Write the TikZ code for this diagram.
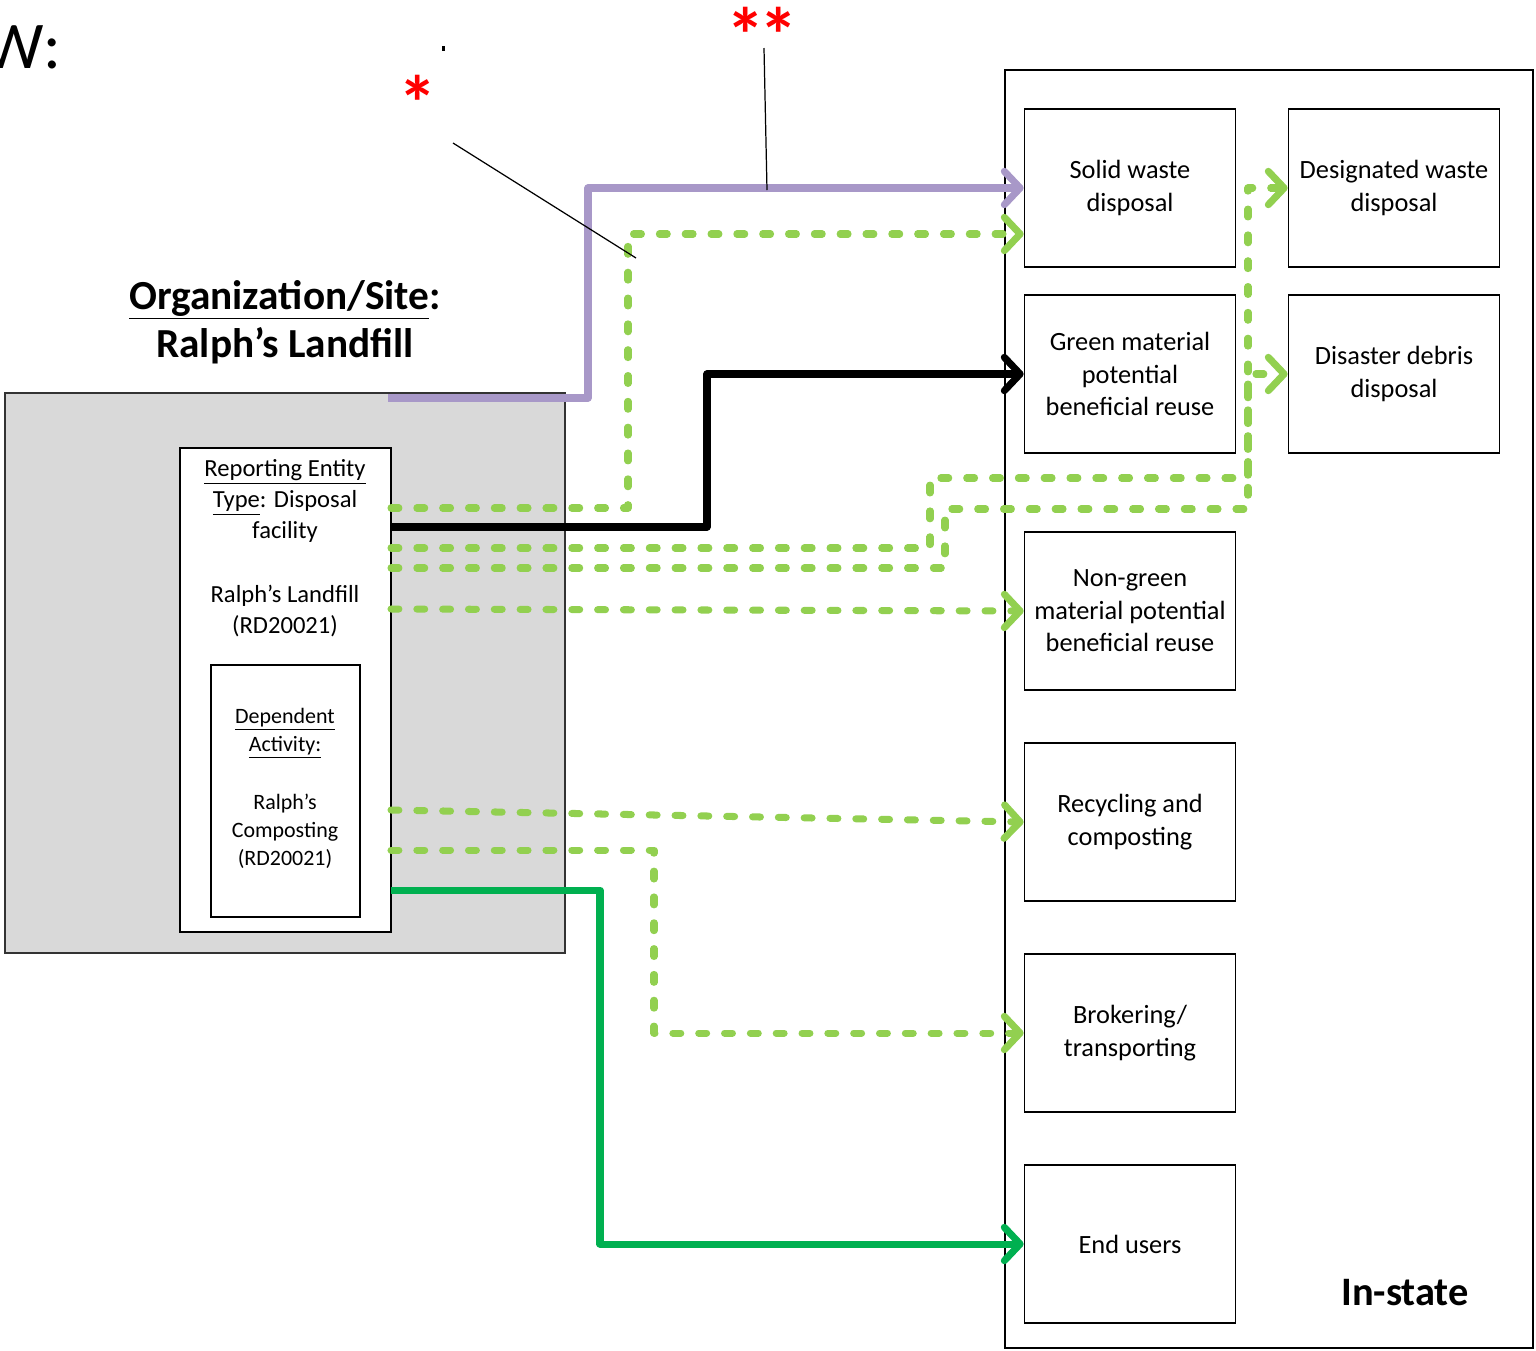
\documentclass[tikz,border=0pt]{standalone}
\usepackage{fontspec}
\setmainfont{Carlito}
\usetikzlibrary{arrows.meta}

\definecolor{sitegray}{RGB}{217,217,217}
\definecolor{flowpurple}{RGB}{168,152,200}
\definecolor{flowlight}{RGB}{146,208,80}
\definecolor{flowgreen}{RGB}{0,176,80}

\begin{document}
\begin{tikzpicture}[x=0.02cm, y=-0.02cm,
  dest/.style={draw, line width=1pt, minimum width=4.22cm, minimum height=3.16cm, align=center, inner sep=1pt, font=\fontsize{15}{18.5}\selectfont},
  barb/.style={-{Straight Barb[round, length=9pt, width=19pt]}},
  solidflow/.style={line width=4pt, line join=round, barb},
  dashflow/.style={draw=flowlight, line width=4pt, line cap=round, line join=round, dash pattern=on 4.5pt off 10.2pt, barb},
  mark star/.style={red, anchor=base, inner sep=0, font=\bfseries\fontsize{44}{44}\selectfont},
  leader/.style={line width=0.7pt}]

\useasboundingbox (0,0) rectangle (1536,1350);

\node [anchor=base west, inner sep=0, font=\fontsize{38}{38}\selectfont] (cut) at (-16,68) {W:};

\node [draw=black!80, line width=0.8pt, fill=sitegray, minimum width=11.2cm, minimum height=11.2cm] (site) at (285,673) {};
\node [draw, fill=white, line width=0.8pt, minimum width=4.22cm, minimum height=9.68cm] (rep) at (285.5,690) {};
\node [draw, line width=0.8pt, minimum width=2.98cm, minimum height=5.04cm] (dep) at (285.5,791) {};

\node [align=center, font=\fontsize{14}{17.6}\selectfont] (reptype) at (285,501) {\underline{Reporting Entity}\\\underline{Type}: Disposal\\facility};
\node [align=center, font=\fontsize{14}{17.6}\selectfont] (repname) at (285,611) {Ralph’s Landfill\\(RD20021)};
\node [align=center, font=\fontsize{12.5}{16}\selectfont] (deptype) at (285,733) {\underline{Dependent}\\\underline{Activity:}};
\node [align=center, font=\fontsize{12.5}{16}\selectfont] (depname) at (285,831) {Ralph’s\\Composting\\(RD20021)};

\node [align=center, font=\bfseries\fontsize{23.5}{27.3}\selectfont] (org) at (285,322) {\underline{Organization/Site}:\\Ralph’s Landfill};

\node [draw, line width=1pt, minimum width=10.56cm, minimum height=25.56cm] (instate) at (1269,709) {};
\node [font=\bfseries\fontsize{23}{23}\selectfont] (instatelabel) at (1405,1293) {In-state};

\node [dest] (solid) at (1130,188) {Solid waste\\disposal};
\node [dest] (designated) at (1394,188) {Designated waste\\disposal};
\node [dest] (green) at (1130,374) {Green material\\potential\\beneficial reuse};
\node [dest] (disaster) at (1394,374) {Disaster debris\\disposal};
\node [dest] (nongreen) at (1130,611) {Non-green\\material potential\\beneficial reuse};
\node [dest] (recycling) at (1130,822) {Recycling and\\composting};
\node [dest] (brokering) at (1130,1033) {Brokering/\\transporting};
\node [dest] (endusers) at (1130,1244) {End users};

\coordinate (p0) at (388,398);
\coordinate (s1) at (391,508);
\coordinate (s2) at (391,527);
\coordinate (s3) at (391,548);
\coordinate (s4) at (391,568);
\coordinate (s5) at (391,609);
\coordinate (s6) at (391,810);
\coordinate (s7) at (391,850);
\coordinate (s8) at (391,890);

\draw [solidflow] [flowpurple] (p0) -| (588,300) |- (solid.west);
\draw [dashflow] (s1) -| (628,300) |- ([yshift=-0.92cm]solid.west);
\draw [solidflow] [black] (s2) -| (707,450) |- (green.west);
\draw [dashflow] (s3) -| (930,478) -| (1248,300) |- (designated.west);
\draw [dashflow] (s4) -| (945,509) -| (1248,450) |- (disaster.west);
\draw [dashflow] (s5) -- (nongreen.west);
\draw [dashflow] (s6) -- (recycling.west);
\draw [dashflow] (s7) -| (654,950) |- (brokering.west);
\draw [solidflow] [flowgreen] (s8) -| (600,1000) |- (endusers.west);

\node [mark star] (star) at (418,130) {*};
\node [mark star] (stars) at (762,62) {*\kern-0.07em*};

\coordinate (a1) at (453,143);
\coordinate (a2) at (636,258);
\coordinate (b1) at (764,48);
\coordinate (b2) at (767,190);
\draw [leader] (a1) -- (a2);
\draw [leader] (b1) -- (b2);
\fill (442,46) rectangle (445,51);

\end{tikzpicture}
\end{document}
